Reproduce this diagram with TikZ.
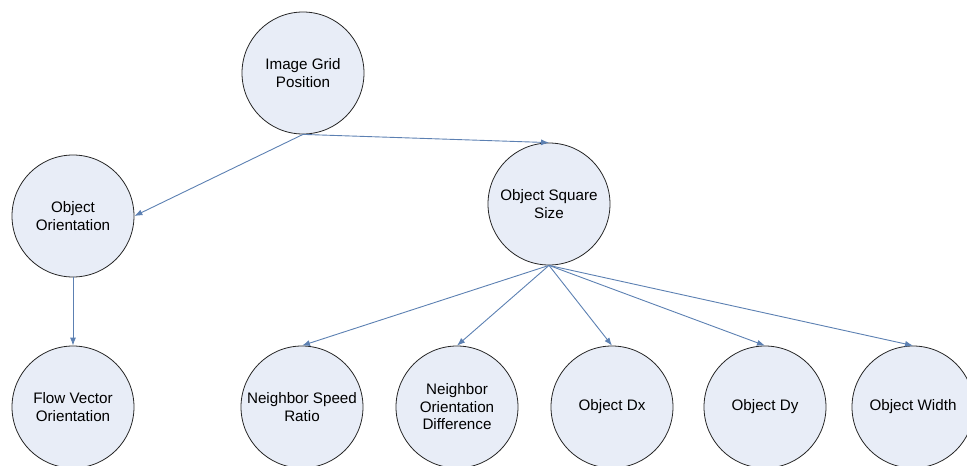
\documentclass[tikz,border=0pt]{standalone}
\usepackage{fontspec}
\setmainfont{Liberation Sans}
\usetikzlibrary{arrows.meta}
\usetikzlibrary{positioning}
\definecolor{mfill}{rgb}{0.91, 0.93, 0.97}
\definecolor{mline}{rgb}{0.36, 0.5, 0.7}
\tikzset{feat/.style = {draw = black!85, fill = mfill, circle, inner sep = 0, minimum size = 122, line width = 0.8, align = center, font = \fontsize{15.2}{17.5}\selectfont}}
\tikzset{link/.style = {draw = mline, line width = 0.9, -{Latex[length = 8, width = 6]}}}

\begin{document}
\begin{tikzpicture}[x = 1pt, y = -1pt]
    \useasboundingbox (0, 0) rectangle (967, 466);

    \node [feat] (grid) at (303, 73) {Image Grid\\Position};
    \node [feat] (orient) at (73, 216) {Object\\Orientation};
    \node [feat] (square) at (549, 204) {Object Square\\Size};

    \node [feat] (flow) at (73, 407) {Flow Vector\\Orientation};
    \node [feat] (speed) at (302, 407) {Neighbor Speed\\Ratio};
    \node [feat] (diff) at (457, 407) {Neighbor\\Orientation\\Difference};
    \node [feat] (dx) at (612, 407) {Object Dx};
    \node [feat] (dy) at (765, 407) {Object Dy};
    \node [feat] (width) at (913, 407) {Object Width};

    \draw [link] (grid.south) -- (orient.east);
    \draw [link] (grid.south) -- (square.north);
    \draw [link] (orient.south) -- (flow.north);
    \foreach \n in {speed, diff, dx, dy, width} {
      \draw [link] (square.south) -- (\n.north);
    }
  \end{tikzpicture}
\end{document}
